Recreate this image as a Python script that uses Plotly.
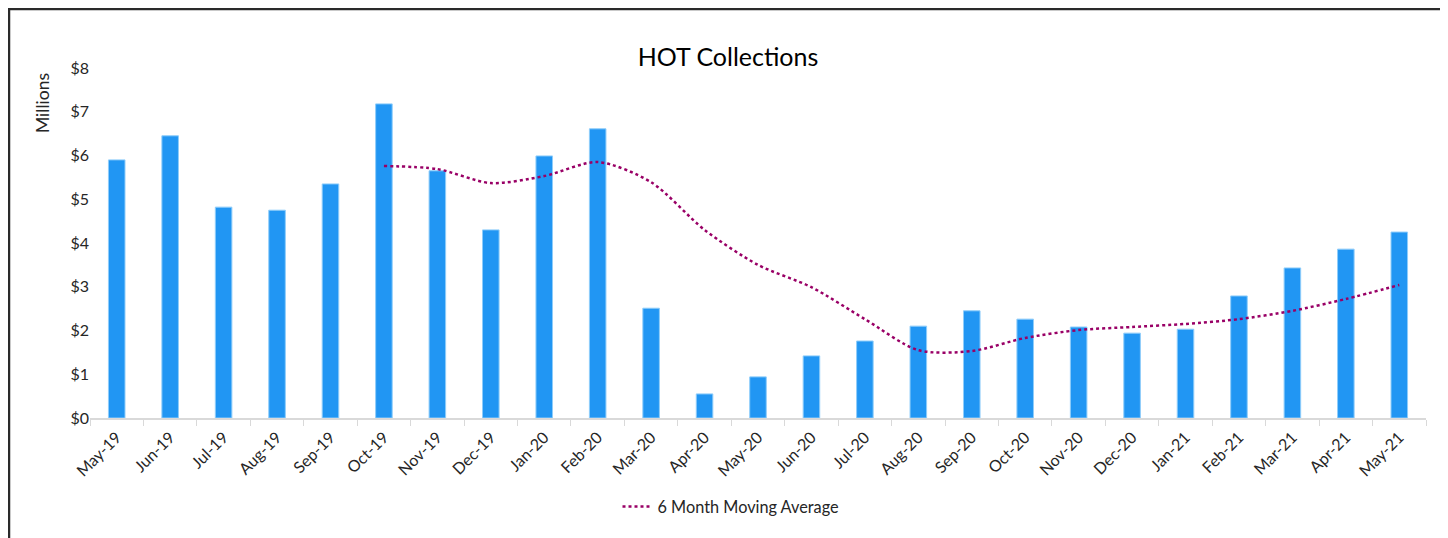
import plotly.graph_objects as go

months = ["May-19", "Jun-19", "Jul-19", "Aug-19", "Sep-19", "Oct-19", "Nov-19", "Dec-19",
          "Jan-20", "Feb-20", "Mar-20", "Apr-20", "May-20", "Jun-20", "Jul-20", "Aug-20",
          "Sep-20", "Oct-20", "Nov-20", "Dec-20", "Jan-21", "Feb-21", "Mar-21", "Apr-21", "May-21"]
collections = [5.90, 6.45, 4.82, 4.75, 5.35, 7.18, 5.65, 4.30, 5.99, 6.61, 2.51, 0.55, 0.94,
               1.42, 1.76, 2.10, 2.45, 2.26, 2.08, 1.94, 2.03, 2.79, 3.43, 3.86, 4.25]
ma_months = months[5:]
moving_avg = [5.76, 5.69, 5.37, 5.53, 5.85, 5.39, 4.30, 3.50, 2.99, 2.26, 1.55, 1.53, 1.83,
              2.01, 2.08, 2.15, 2.26, 2.45, 2.72, 3.04]
y_ticks = [0, 1, 2, 3, 4, 5, 6, 7, 8]
y_labels = ["$" + str(v) for v in y_ticks]

FONT = "Lato"
TXT = "#262626"

# page body has an 8px margin; figure coords = reference px - 8
W, H = 1440, 530
L, R, T, B = 82, 22, 60, 120
PW, PH = W - L - R, H - T - B

fig = go.Figure()
fig.add_trace(go.Bar(
    x=months, y=collections, width=0.31,
    marker=dict(color="#2196F3", line=dict(color="#8fcdfa", width=1)),
    showlegend=False, name="HOT Collections"))
fig.add_trace(go.Scatter(
    x=ma_months, y=moving_avg, mode="lines", name="6 Month Moving Average",
    line=dict(color="#990066", width=2.5, dash="dot", shape="spline", smoothing=0.8)))

fig.update_layout(
    width=W, height=H,
    margin=dict(l=L, r=R, t=T, b=B),
    paper_bgcolor="white", plot_bgcolor="white",
    font=dict(family=FONT, color=TXT, size=15),
    title=dict(text="HOT Collections", x=(728 - 8) / W, xanchor="center", xref="container",
               y=1 - (57 - 8) / H, yref="container", yanchor="middle",
               font=dict(size=25, family=FONT, color="#000000")),
    xaxis=dict(type="category", showgrid=False, showline=True, linecolor="#d9d9d9", linewidth=1.5,
               ticks="outside", tickson="boundaries", ticklen=6, tickcolor="#d9d9d9",
               ticklabelstandoff=2, automargin=False,
               tickangle=-45, tickfont=dict(size=16, color=TXT), range=[-0.5, 24.5]),
    yaxis=dict(range=[0, 8], tickmode="array", tickvals=y_ticks, ticktext=y_labels,
               showgrid=False, zeroline=False, automargin=False,
               showline=False, ticks="", tickfont=dict(size=16, color=TXT)),
    legend=dict(orientation="h", xref="container", x=(731 - 8) / W, xanchor="center",
                yref="container", y=1 - (507 - 8) / H, yanchor="middle",
                font=dict(size=16.3, color=TXT)),
)

fig.add_annotation(text="Millions", textangle=-90, xref="paper", yref="paper",
                   x=(42 - 8 - L) / PW, y=(418 - 103) / 350, xanchor="center", yanchor="middle",
                   showarrow=False, font=dict(size=17.5, color=TXT, family=FONT))

fig.add_shape(type="rect", xref="paper", yref="paper",
              x0=(1 - L) / PW, x1=(1437 - L) / PW,
              y0=-1.0, y1=(410 - 1) / PH,
              line=dict(color="#2a2a2a", width=2.5), fillcolor="rgba(0,0,0,0)", layer="above")

fig.write_html("out.html")
